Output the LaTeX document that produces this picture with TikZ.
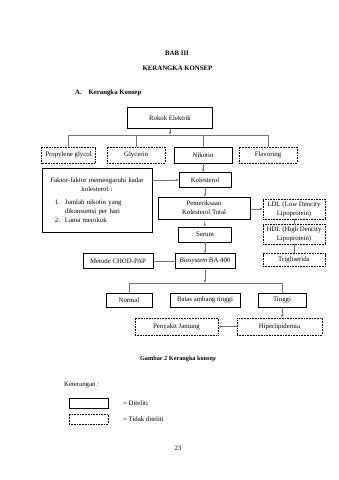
\documentclass[tikz,border=0pt]{standalone}
\usepackage{fontspec}
\setmainfont{Liberation Serif}
\usetikzlibrary{positioning,arrows.meta}

\begin{document}
\begin{tikzpicture}[x=0.6195mm, y=-0.6195mm,
		box/.style={draw, line width=1.1pt, align=center, inner sep=1pt, font=\fontsize{12}{16}\selectfont},
		dotbox/.style={box, line width=0.8pt, dash pattern=on 1.4pt off 1.4pt},
		bw/.style={minimum width=#1*0.6195mm},
		bh/.style={minimum height=#1*0.6195mm},
		arrow/.style={-{Latex[length=1.8mm, width=1.5mm]}, line width=0.8pt, black!55},
		link/.style={line width=0.8pt, black!55},
		head/.style={font=\fontsize{12}{14}\selectfont\bfseries},
		txt/.style={font=\fontsize{12}{14}\selectfont, inner sep=0pt}
	]
	\useasboundingbox[fill=white] (0,0) rectangle (339,480);

	% Judul
	\node[head] (bab) at (177,53) {BAB III};
	\node[head] (judul) at (177.5,68) {KERANGKA KONSEP};
	\node[head, anchor=west, inner sep=0pt] (subjudul) at (75,93) {A.\hspace{1em}Kerangka Konsep};

	% Rokok elektrik dan kandungannya
	\node[box, bw=85, bh=21] (rokok) at (170,118) {Rokok Elektrik};
	\node[dotbox, bw=54, bh=16] (propylene) at (68.5,155) {Propylene glycol};
	\node[dotbox, bw=58, bh=16] (glycerin) at (136,155) {Glycerin};
	\node[box, bw=58, bh=16] (nikotin) at (203,155) {Nikotin};
	\node[dotbox, bw=58, bh=16] (flavoring) at (268,155) {Flavoring};
	\coordinate (bus1) at (170,135);

	% Kolesterol
	\node[box, bw=110, bh=64, text width=64mm, align=left] (faktor) at (97,200)
		{\centering Faktor-faktor memengaruhi kadar\\ kolesterol :\par
		\vspace{2.3mm}\raggedright
		\hspace*{5.9mm}\makebox[6.2mm][l]{1.}Jumlah nikotin yang\\
		\hspace*{12.1mm}dikonsumsi per hari\\
		\hspace*{5.9mm}\makebox[6.2mm][l]{2.}Lama merokok\par\vspace{2mm}};
	\node[box, bw=52, bh=15] (kolesterol) at (205,180) {Kolesterol};
	\node[box, bw=92, bh=22] (pemeriksaan) at (204,208) {Pemeriksaan\\Kolesterol Total};
	\node[dotbox, bw=62, bh=20] (ldl) at (294,209) {LDL (Low Dencity\\Lipoprotein)};
	\node[dotbox, bw=62, bh=20] (hdl) at (294,234) {HDL (High Dencity\\Lipoprotein)};
	\node[dotbox, bw=62, bh=13] (trigliserida) at (294,260) {Trigliserida};
	\node[box, bw=53, bh=15] (serum) at (205,234.5) {Serum};
	\node[box, bw=60, bh=15] (biosystem) at (205,261) {\textit{Biosystem} BA 400};
	\node[box, bw=70, bh=15] (chod) at (118,261) {Metode CHOD-PAP};

	% Hasil
	\node[box, bw=46, bh=14] (normal) at (129,300) {Normal};
	\node[box, bw=70, bh=14] (batas) at (205,300) {Batas ambang tinggi};
	\node[box, bw=48, bh=14] (tinggi) at (282,300) {Tinggi};
	\node[dotbox, bw=85, bh=17] (hiper) at (279.5,326.5) {Hiperlipidemia};
	\node[dotbox, bw=83, bh=17] (jantung) at (176.5,326.5) {Penyakit Jantung};
	\coordinate (bus2) at (205,283);

	% Arrows
	\draw[arrow] (rokok) -- (bus1);
	\draw[link] (propylene.north) -- (propylene.north|-bus1) -- (flavoring.north|-bus1) -- (flavoring.north);
	\foreach \n in {glycerin,nikotin}
		\draw[link] (\n.north) -- (\n.north|-bus1);
	\draw[arrow] (nikotin.south) -- (nikotin.south|-kolesterol.north);
	\draw[arrow] (faktor.east|-kolesterol) -- (kolesterol.west);
	\draw[arrow] (kolesterol.south) -- (kolesterol.south|-pemeriksaan.north);
	\draw[arrow] (pemeriksaan.east|-ldl) -- (ldl.west);
	\draw[link] (ldl) -- (hdl);
	\draw[link] (hdl) -- (trigliserida);
	\draw[arrow] (pemeriksaan) -- (serum);
	\draw[arrow] (serum) -- (biosystem);
	\draw[link] (chod) -- (biosystem);
	\draw[arrow] (biosystem) -- (bus2);
	\draw[link] (normal.north) -- (normal.north|-bus2) -- (tinggi.north|-bus2) -- (tinggi.north);
	\draw[arrow] (tinggi.south) -- (tinggi.south|-hiper.north);
	\draw[arrow] (hiper) -- (jantung);

	% Keterangan
	\node[head, font=\fontsize{11}{13}\selectfont\bfseries] (caption) at (178,359) {Gambar 2 Kerangka konsep};
	\node[txt, anchor=west] (ket) at (64,385) {Keterangan :};
	\node[box, bw=39, bh=10] (legditeliti) at (88.5,403) {};
	\node[dotbox, bw=39, bh=10] (legtidak) at (88.5,419) {};
	\node[txt, anchor=west] (diteliti) at (123,403) {= Diteliti};
	\node[txt, anchor=west] (tidak) at (123,419) {= Tidak diteliti};
	\node[txt] (halaman) at (178,448) {23};
\end{tikzpicture}
\end{document}
